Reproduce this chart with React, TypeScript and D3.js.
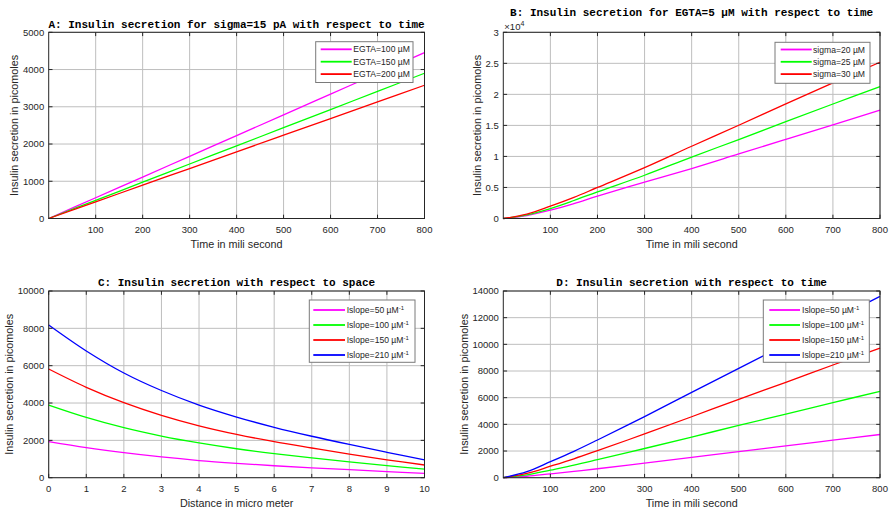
import React from 'react';
import * as d3 from 'd3';

// ---------- data ----------
const aTime = [0, 100, 200, 300, 400, 500, 600, 700, 800];
const aEgta100 = [0, 557, 1113, 1670, 2227, 2783, 3340, 3897, 4453];
const aEgta150 = [0, 488, 975, 1463, 1950, 2438, 2925, 3413, 3900];
const aEgta200 = [0, 447, 895, 1342, 1790, 2237, 2684, 3131, 3578];
const aLabels = ['EGTA=100 µM', 'EGTA=150 µM', 'EGTA=200 µM'];

const bTime = [0, 50, 100, 150, 200, 300, 400, 500, 600, 700, 800];
// values in units of 10^4 picomoles
const bSigma20 = [0, 0.048, 0.134, 0.24, 0.36, 0.585, 0.805, 1.04, 1.275, 1.51, 1.745];
const bSigma25 = [0, 0.058, 0.16, 0.29, 0.43, 0.697, 0.99, 1.272, 1.56, 1.845, 2.126];
const bSigma30 = [0, 0.07, 0.198, 0.34, 0.5, 0.82, 1.164, 1.502, 1.846, 2.185, 2.517];
const bLabels = ['sigma=20 µM', 'sigma=25 µM', 'sigma=30 µM'];

const cDist = [0, 1, 2, 3, 4, 5, 6, 7, 8, 9, 10];
const cSlope50 = [1930, 1610, 1340, 1110, 920, 770, 640, 530, 430, 330, 230];
const cSlope100 = [3890, 3230, 2680, 2230, 1860, 1550, 1290, 1060, 850, 650, 460];
const cSlope150 = [5820, 4840, 4020, 3340, 2780, 2320, 1930, 1590, 1260, 960, 680];
const cSlope210 = [8180, 6790, 5610, 4670, 3890, 3250, 2700, 2220, 1780, 1360, 950];

const dTime = [0, 50, 100, 150, 200, 300, 400, 500, 600, 700, 800];
const dSlope50 = [0, 110, 290, 470, 670, 1090, 1520, 1960, 2380, 2810, 3240];
const dSlope100 = [0, 210, 570, 940, 1350, 2190, 3050, 3920, 4770, 5630, 6480];
const dSlope150 = [0, 320, 860, 1420, 2030, 3280, 4570, 5880, 7150, 8450, 9720];
const dSlope210 = [0, 450, 1200, 1980, 2830, 4580, 6400, 8200, 10000, 11800, 13600];
const islopeLabels = ['Islope=50 µM', 'Islope=100 µM', 'Islope=150 µM', 'Islope=210 µM'];
const islopeSup = '-1';

const timeTicks = [100, 200, 300, 400, 500, 600, 700, 800];
const distTicks = [0, 1, 2, 3, 4, 5, 6, 7, 8, 9, 10];
const aYTicks = [0, 1000, 2000, 3000, 4000, 5000];
const bYTicks = [0, 0.5, 1, 1.5, 2, 2.5, 3];
const cYTicks = [0, 2000, 4000, 6000, 8000, 10000];
const dYTicks = [0, 2000, 4000, 6000, 8000, 10000, 12000, 14000];

const MAGENTA = '#ff00ff';
const GREEN = '#00ff00';
const RED = '#ff0000';
const BLUE = '#0000ff';

const SANS = '"Liberation Sans", Arial, Helvetica, sans-serif';
const MONO = '"Liberation Mono", "Courier New", monospace';
const AXIS = '#262626';
const GRID = '#bebebe';

type Series = { x: number[]; y: number[]; color: string };
type LegendRow = { label: string; sup?: string; color: string };
type Legend = {
  left: number; top: number; w: number; h: number;
  rowStart: number; rowStep: number;
  lineX1: number; lineX2: number; textX: number;
  rows: LegendRow[];
};
type PanelProps = {
  left: number; right: number; top: number; bottom: number;
  xDomain: [number, number]; xTicks: number[];
  yDomain: [number, number]; yTicks: number[];
  series: Series[];
  title: string; titleY: number;
  xLabel: string; xLabelY: number;
  yLabel: string; yLabelX: number;
  legend: Legend;
  exponent?: boolean;
};

function Panel(p: PanelProps) {
  const x = d3.scaleLinear().domain(p.xDomain).range([p.left, p.right]);
  const y = d3.scaleLinear().domain(p.yDomain).range([p.bottom, p.top]);
  const tl = 3.8;
  const line = d3
    .line<[number, number]>()
    .x((d) => x(d[0]))
    .y((d) => y(d[1]))
    .curve(d3.curveCatmullRom.alpha(0.5));
  const cx = (p.left + p.right) / 2;
  const cy = (p.top + p.bottom) / 2;
  const L = p.legend;
  return (
    <g>
      {p.xTicks.map((t) => (
        <line key={'gx' + t} x1={x(t)} x2={x(t)} y1={p.top} y2={p.bottom} stroke={GRID} strokeWidth={1} />
      ))}
      {p.yTicks.map((t) => (
        <line key={'gy' + t} x1={p.left} x2={p.right} y1={y(t)} y2={y(t)} stroke={GRID} strokeWidth={1} />
      ))}
      <g>
        {p.series.map((s, i) => (
          <path
            key={'s' + i}
            d={line(s.x.map((v, j) => [v, s.y[j]] as [number, number])) || ''}
            fill="none"
            stroke={s.color}
            strokeWidth={1.3}
          />
        ))}
      </g>
      <rect x={p.left} y={p.top} width={p.right - p.left} height={p.bottom - p.top} fill="none" stroke={AXIS} strokeWidth={1} />
      {p.xTicks.map((t) => (
        <g key={'tx' + t}>
          <line x1={x(t)} x2={x(t)} y1={p.bottom} y2={p.bottom - tl} stroke={AXIS} />
          <line x1={x(t)} x2={x(t)} y1={p.top} y2={p.top + tl} stroke={AXIS} />
          <text x={x(t)} y={p.bottom + 14.5} textAnchor="middle" fontFamily={SANS} fontSize={9.5} fill={AXIS}>
            {String(t)}
          </text>
        </g>
      ))}
      {p.yTicks.map((t) => (
        <g key={'ty' + t}>
          <line x1={p.left} x2={p.left + tl} y1={y(t)} y2={y(t)} stroke={AXIS} />
          <line x1={p.right} x2={p.right - tl} y1={y(t)} y2={y(t)} stroke={AXIS} />
          <text x={p.left - 4.5} y={y(t)} dy="0.35em" textAnchor="end" fontFamily={SANS} fontSize={9.5} fill={AXIS}>
            {String(t)}
          </text>
        </g>
      ))}
      {p.exponent && (
        <text x={p.left + 1} y={p.top - 2.5} fontFamily={SANS} fontSize={9.5} fill={AXIS}>
          ×10
          <tspan dy={-4} fontSize={7}>4</tspan>
        </text>
      )}
      <text x={cx} y={p.titleY} textAnchor="middle" fontFamily={MONO} fontWeight="bold" fontSize={11} fill="#000">
        {p.title}
      </text>
      <text x={cx} y={p.xLabelY} textAnchor="middle" fontFamily={SANS} fontSize={10.8} fill={AXIS}>
        {p.xLabel}
      </text>
      <text
        transform={`translate(${p.yLabelX},${cy}) rotate(-90)`}
        textAnchor="middle"
        fontFamily={SANS}
        fontSize={10.8}
        fill={AXIS}
      >
        {p.yLabel}
      </text>
      <g>
        <rect x={L.left} y={L.top} width={L.w} height={L.h} fill="#fff" stroke="#7a7a7a" strokeWidth={1} />
        {L.rows.map((r, i) => {
          const ry = L.top + L.rowStart + i * L.rowStep;
          return (
            <g key={'l' + i}>
              <line x1={L.left + L.lineX1} x2={L.left + L.lineX2} y1={ry} y2={ry} stroke={r.color} strokeWidth={1.8} />
              <text x={L.left + L.textX} y={ry} dy="0.35em" fontFamily={SANS} fontSize={8.6} fill={AXIS}>
                {r.label}
                {r.sup && (
                  <tspan dy={-3.5} fontSize={6}>
                    {r.sup}
                  </tspan>
                )}
              </text>
            </g>
          );
        })}
      </g>
    </g>
  );
}

export default function App() {
  const colors3 = [MAGENTA, GREEN, RED];
  const colors4 = [MAGENTA, GREEN, RED, BLUE];
  return (
    <svg
      width={889}
      height={511}
      viewBox="0 0 889 511"
      style={{ position: 'absolute', left: 0, top: 0, background: '#fff' }}
    >
      <rect x={0} y={0} width={889} height={511} fill="#fff" />
      <Panel
        left={48.7} right={424.5} top={32.3} bottom={218.5}
        xDomain={[0, 800]} xTicks={timeTicks}
        yDomain={[0, 5000]} yTicks={aYTicks}
        series={[aEgta100, aEgta150, aEgta200].map((v, i) => ({ x: aTime, y: v, color: colors3[i] }))}
        title="A: Insulin secretion for sigma=15 pA with respect to time" titleY={28}
        xLabel="Time in mili second" xLabelY={247.5}
        yLabel="Insulin secretion in picomoles" yLabelX={18}
        legend={{
          left: 315.7, top: 41.7, w: 97.3, h: 40.8, rowStart: 7.6, rowStep: 12.4,
          lineX1: 5, lineX2: 36, textX: 37.6,
          rows: aLabels.map((l, i) => ({ label: l, color: colors3[i] })),
        }}
      />
      <Panel
        left={503.3} right={880} top={32.3} bottom={218.5}
        xDomain={[0, 800]} xTicks={timeTicks}
        yDomain={[0, 3]} yTicks={bYTicks}
        series={[bSigma20, bSigma25, bSigma30].map((v, i) => ({ x: bTime, y: v, color: colors3[i] }))}
        title="B: Insulin secretion for EGTA=5 µM with respect to time" titleY={15.5}
        xLabel="Time in mili second" xLabelY={247.5}
        yLabel="Insulin secretion in picomoles" yLabelX={480.5}
        exponent
        legend={{
          left: 775, top: 42.3, w: 95, h: 41, rowStart: 7.2, rowStep: 12.3,
          lineX1: 5.7, lineX2: 36.7, textX: 38,
          rows: bLabels.map((l, i) => ({ label: l, color: colors3[i] })),
        }}
      />
      <Panel
        left={48.7} right={424.5} top={291} bottom={477.7}
        xDomain={[0, 10]} xTicks={distTicks}
        yDomain={[0, 10000]} yTicks={cYTicks}
        series={[cSlope50, cSlope100, cSlope150, cSlope210].map((v, i) => ({ x: cDist, y: v, color: colors4[i] }))}
        title="C: Insulin secretion with respect to space" titleY={286}
        xLabel="Distance in micro meter" xLabelY={507}
        yLabel="Insulin secretion in picomoles" yLabelX={12.7}
        legend={{
          left: 309.3, top: 300, w: 105.7, h: 62.3, rowStart: 10, rowStep: 15,
          lineX1: 4, lineX2: 35.7, textX: 37.4,
          rows: islopeLabels.map((l, i) => ({ label: l, sup: islopeSup, color: colors4[i] })),
        }}
      />
      <Panel
        left={503.3} right={880} top={291} bottom={477.7}
        xDomain={[0, 800]} xTicks={timeTicks}
        yDomain={[0, 14000]} yTicks={dYTicks}
        series={[dSlope50, dSlope100, dSlope150, dSlope210].map((v, i) => ({ x: dTime, y: v, color: colors4[i] }))}
        title="D: Insulin secretion with respect to time" titleY={286}
        xLabel="Time in mili second" xLabelY={507}
        yLabel="Insulin secretion in picomoles" yLabelX={468}
        legend={{
          left: 763.3, top: 300, w: 106, h: 62.3, rowStart: 10, rowStep: 15,
          lineX1: 6, lineX2: 36.7, textX: 38.7,
          rows: islopeLabels.map((l, i) => ({ label: l, sup: islopeSup, color: colors4[i] })),
        }}
      />
    </svg>
  );
}
